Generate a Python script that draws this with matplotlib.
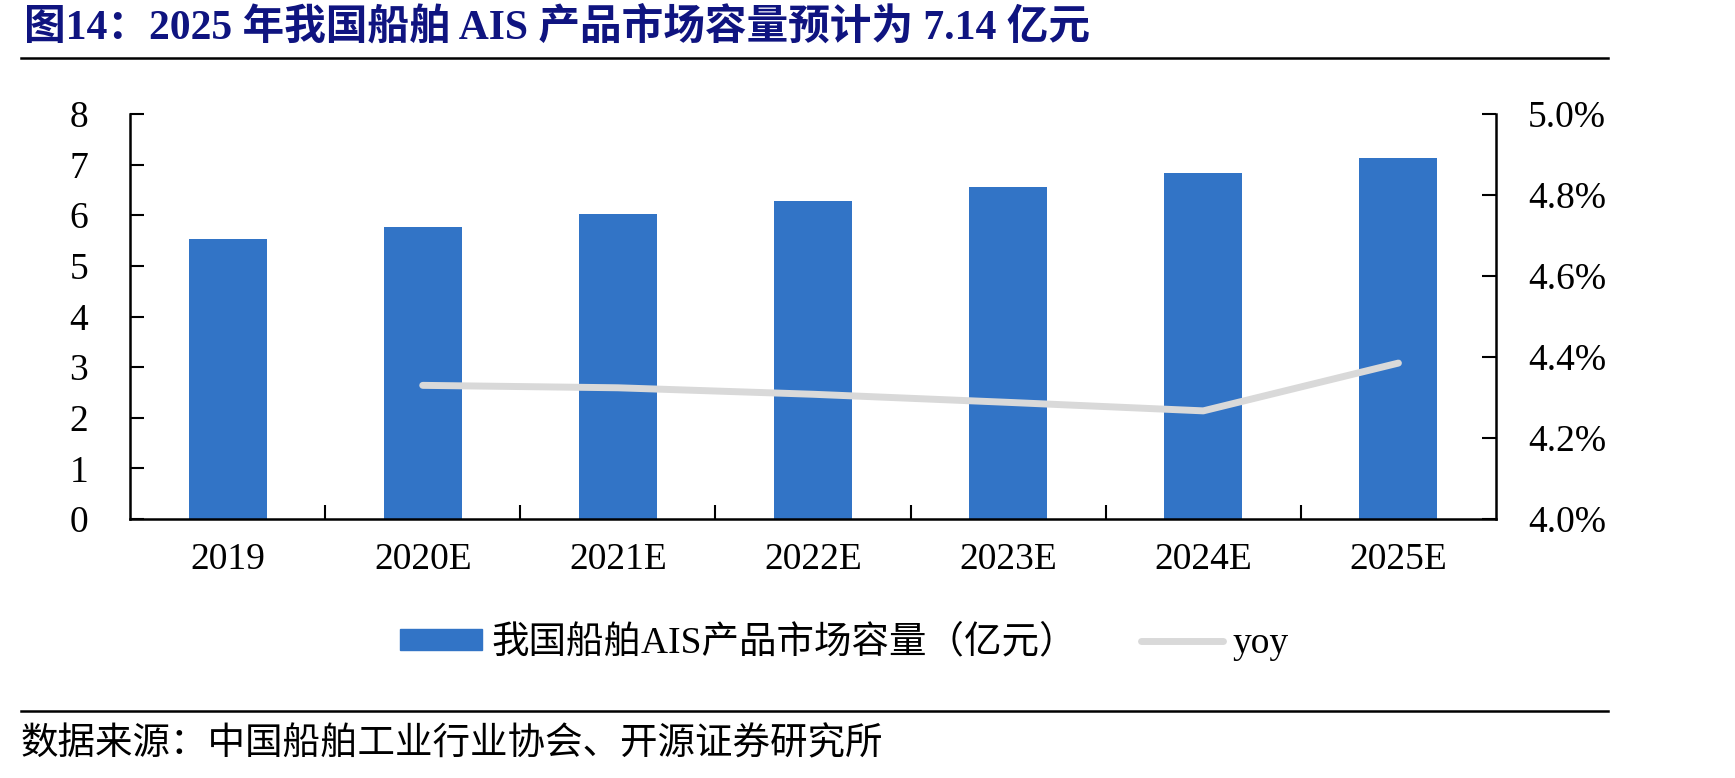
import numpy as np
import matplotlib
matplotlib.use("Agg")
from matplotlib import pyplot as plt
from matplotlib.lines import Line2D
from matplotlib.patches import Patch
from matplotlib.ticker import FuncFormatter

plt.rcParams['font.family'] = ['Liberation Serif', 'Noto Sans CJK SC', 'DejaVu Sans']

years = ["2019", "2020E", "2021E", "2022E", "2023E", "2024E", "2025E"]
capacity = [5.54, 5.77, 6.02, 6.29, 6.55, 6.84, 7.14]
yoy_years = ["2020E", "2021E", "2022E", "2023E", "2024E", "2025E"]
yoy = [4.330, 4.324, 4.308, 4.288, 4.267, 4.385]

bar_color = "#3274C6"
line_color = "#D9D9D9"

fig = plt.figure(figsize=(17.35, 7.78), dpi=100)
ax = fig.add_axes([130/1735, 1-519/778, (1496-130)/1735, (519-114)/778])

x = np.arange(len(years))
ax.bar(x, capacity, width=0.4, color=bar_color, zorder=2)
ax.set_xlim(-0.5, len(years)-0.5)
ax.set_ylim(0, 8)
ax.set_yticks(range(0, 9))
ax.set_xticks(x)
ax.set_xticklabels(years)
ax.set_xticks(np.arange(0.5, len(years)-1, 1), minor=True)
ax.tick_params(axis='x', which='major', length=0, pad=17, labelsize=27)
ax.tick_params(axis='x', which='minor', length=10, width=1.5, direction='in')
ax.tick_params(axis='y', direction='in', length=10, width=1.5, pad=30, labelsize=27)
for s in ['top', 'right']:
    ax.spines[s].set_visible(False)
for s in ['left', 'bottom']:
    ax.spines[s].set_linewidth(1.8)

ax2 = ax.twinx()
xi = [years.index(y) for y in yoy_years]
ax2.plot(xi, yoy, color=line_color, lw=5, solid_capstyle='round', zorder=3)
ax2.set_ylim(4.0, 5.0)
ax2.set_yticks(np.arange(4.0, 5.01, 0.2))
ax2.yaxis.set_major_formatter(FuncFormatter(lambda v, p: f"{v:.1f}%"))
ax2.tick_params(axis='y', direction='in', length=10, width=1.5, pad=23, labelsize=27)
for s in ['top', 'left', 'bottom']:
    ax2.spines[s].set_visible(False)
ax2.spines['right'].set_linewidth(1.8)

handles = [Patch(color=bar_color), Line2D([0], [0], color=line_color, lw=5, solid_capstyle='round')]
labels = ["我国船舶AIS产品市场容量（亿元）", "yoy"]
fig.legend(handles, labels, loc='center', bbox_to_anchor=(0.4866, 0.1735), ncol=2,
           frameon=False, fontsize=27, handlelength=2.2, handleheight=0.5,
           handletextpad=0.25, columnspacing=1.7)

fig.text(24/1735, 1-27/778, "图14：2025 年我国船舶 AIS 产品市场容量预计为 7.14 亿元",
         fontsize=30, fontweight='bold', color='#0F1480', va='center', ha='left')
fig.add_artist(Line2D([21/1735, 1608/1735], [1-58/778, 1-58/778], color='black', lw=1.8))
fig.add_artist(Line2D([21/1735, 1608/1735], [1-711/778, 1-711/778], color='black', lw=1.8))
fig.text(21/1735, 1-745/778, "数据来源：中国船舶工业行业协会、开源证券研究所",
         fontsize=27, va='center', ha='left')

fig.savefig("out.png", dpi=100)
